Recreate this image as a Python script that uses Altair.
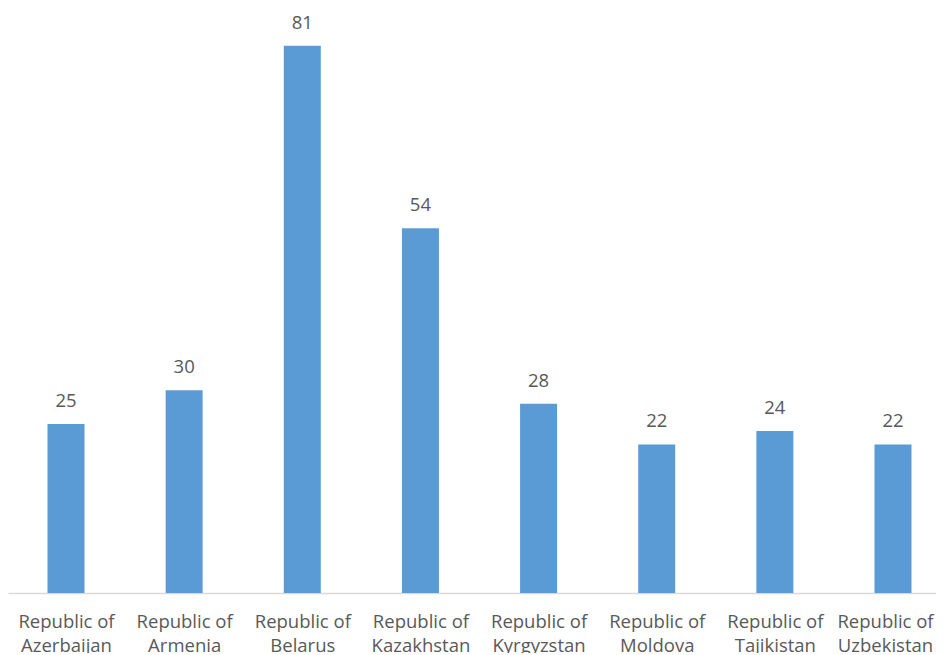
import altair as alt
import pandas as pd
import json

countries = ["Republic of Azerbaijan", "Republic of Armenia", "Republic of Belarus",
             "Republic of Kazakhstan", "Republic of Kyrgyzstan", "Republic of Moldova",
             "Republic of Tajikistan", "Republic of Uzbekistan"]
values = [25, 30, 81, 54, 28, 22, 24, 22]

df = pd.DataFrame({"idx": list(range(len(countries))), "country": countries, "value": values})

FONT = "Open Sans"
GREY = "#595959"

names_js = json.dumps(countries)
label_expr = ("['Republic of', replace(" + names_js + "[round(datum.value)], 'Republic of ', '')]")
last = len(countries) - 1

x = alt.X("idx:Q", title=None,
          scale=alt.Scale(domain=[-0.491, 7.364], nice=False, zero=False, padding=0),
          axis=alt.Axis(values=list(range(len(countries))), ticks=False, grid=False,
                        domainColor="#d9d9d9", domainWidth=1.5,
                        labelFont=FONT, labelFontSize=18.5, labelColor=GREY,
                        labelPadding=19, labelBaseline="top", labelLineHeight=24,
                        labelOverlap=False, labelFlush=False, labelAlign="center",
                        labelOffset={"condition": {"test": f"datum.value == {last}", "value": -8},
                                     "value": 0},
                        labelExpr=label_expr))
y = alt.Y("value:Q", title=None, scale=alt.Scale(domain=[0, 86.6], nice=False, padding=0),
          axis=None)

base = alt.Chart(df).encode(x=x, y=y)
bars = base.mark_bar(color="#5b9bd5", size=37)
labels = base.mark_text(baseline="bottom", dy=-13, font=FONT, fontSize=18.5, color=GREY).encode(
    text=alt.Text("value:Q"))

chart = (bars + labels).properties(
    width=928, height=585,
    autosize=alt.AutoSizeParams(type="none"),
    padding={"left": 0, "top": 0, "right": 0, "bottom": 60},
).configure_view(stroke=None)

chart.save("out.html", embed_options={"renderer": "svg", "actions": False})
